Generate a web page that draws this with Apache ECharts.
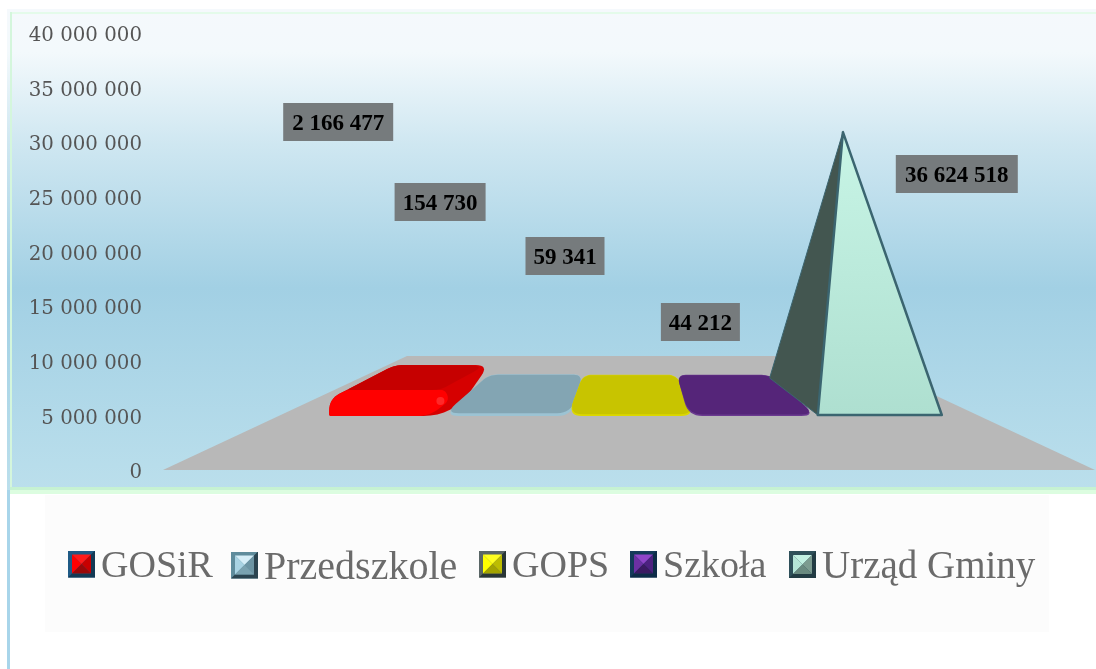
<!DOCTYPE html>
<html><head><meta charset="utf-8">
<style>html,body{margin:0;padding:0;background:#fff}#c{width:1096px;height:669px}</style>
<script src="https://cdn.jsdelivr.net/npm/echarts@6/dist/echarts.min.js"></script>
</head><body><div id="c"></div>
<script>
const categories = ['GOSiR', 'Przedszkole', 'GOPS', 'Szkoła', 'Urząd Gminy'];
const values = [2166477, 154730, 59341, 44212, 36624518];
const valueLabels = ['2 166 477', '154 730', '59 341', '44 212', '36 624 518'];
const tickLabels = ['0', '5 000 000', '10 000 000', '15 000 000', '20 000 000', '25 000 000', '30 000 000', '35 000 000', '40 000 000'];

// layout / style (not data)
const labelOffsets = [[-51, -293], [-69.5, -213], [-65, -159], [-50, -93], [77, -241]];
const labelBoxWidths = [110, 91, 79, 79, 122];
const legendLefts = [68, 231, 479, 630, 789];
const legendFontSizes = [38, 40, 38, 38, 39];
const slabStyles = [
  {front:'#ff0000', top:'#c60000', side:'#d60000'},
  {front:'#9cc3d3', top:'#83a5b3', side:'#9cc3d3'},
  {front:'#dcd800', top:'#c8c400', side:'#dcd800'},
  {front:'#6b3a90', top:'#552579', side:'#6b3a90'}
];
const iconFacets = [
  {frame:'#1f5a85', dark:'#143a55', t:'#ff1a1a', l:'#ff0000', r:'#c80000', b:'#9a0808'},
  {frame:'#5f8c9c', dark:'#2b4450', t:'#d6eef8', l:'#a9d3e3', r:'#6d95a4', b:'#7aa2b0'},
  {frame:'#5a6666', dark:'#2a3636', t:'#ffff20', l:'#ffff00', r:'#bdbd00', b:'#a3a300'},
  {frame:'#143a5a', dark:'#0e2c48', t:'#8f45c8', l:'#6c30a4', r:'#4d2180', b:'#3b1a62'},
  {frame:'#2f505a', dark:'#233c44', t:'#c2f0e2', l:'#b5e6d8', r:'#7c9b90', b:'#6a8a80'}
];
const VP_X = 629, DEPTH = 40, BAR_HW = 60, PYR_HW = 62, PYR_SHIFT = 9, FLAT_FLARE = 5;
const backX = (x, k) => x + (VP_X - x) * (k === undefined ? 0.22 : k);

function rounded(pts, radii) {
  const out = [], n = pts.length;
  for (let i = 0; i < n; i++) {
    const p = pts[i], a = pts[(i + n - 1) % n], b = pts[(i + 1) % n];
    const da = Math.hypot(a[0] - p[0], a[1] - p[1]), db = Math.hypot(b[0] - p[0], b[1] - p[1]);
    const r = Math.min(radii[i], da * 0.7, db * 0.7);
    if (r < 0.05) { out.push(p); continue; }
    const s = [p[0] + (a[0] - p[0]) * r / da, p[1] + (a[1] - p[1]) * r / da];
    const e = [p[0] + (b[0] - p[0]) * r / db, p[1] + (b[1] - p[1]) * r / db];
    for (let t = 0; t <= 8; t++) {
      const u = t / 8, v = 1 - u;
      out.push([v * v * s[0] + 2 * u * v * p[0] + u * u * e[0], v * v * s[1] + 2 * u * v * p[1] + u * u * e[1]]);
    }
  }
  return out;
}
function poly(points, fill, extra) {
  return Object.assign({type: 'polygon', shape: {points}, style: {fill}}, extra || {});
}
function labelEls(i, cx, base) {
  const x = cx + labelOffsets[i][0], y = base + labelOffsets[i][1], w = labelBoxWidths[i];
  return [
    {type: 'rect', z2: 49, shape: {x: x - w / 2, y: y - 19, width: w, height: 38}, style: {fill: '#767b7d'}},
    {type: 'text', z2: 50, style: {
      text: valueLabels[i], x, y: y + 2, align: 'center', verticalAlign: 'middle',
      font: 'bold 23px "Liberation Serif"', fill: '#000'
    }}
  ];
}
function renderSlab(params, api) {
  const i = params.seriesIndex, st = slabStyles[i];
  const v = api.value(1);
  const [cx, base] = api.coord([api.value(0), 0]);
  const size = api.size([0, v])[1];
  const liftF = size * 1.5, liftB = size * 0.6, inset = liftF * 0.35;
  const xl = cx - BAR_HW, xr = cx + BAR_HW;
  const by = base - DEPTH;
  const bl = [backX(xl), by - liftB], br = [backX(xr), by - liftB];
  let kids;
  if (liftF > 5) {
    const topL = [xl + 18, base - liftF], topR = [xr - inset, base - liftF];
    kids = [
      poly(rounded([[xl, base + 1], [xl, base - liftF * 0.64], bl, br, [xr + 4, base + 1]], [2, 14, 9, 13, 30]), st.side),
      poly(rounded([[xl, base + 1], [xl, base - liftF * 0.64], topL, [topR[0] + 4, topR[1]], [topR[0] + 10, topR[1] + 10], [xr - 20, base + 1]],
        [2, 14, 4, 4, 10, 12]), st.front),
      poly(rounded([topL, topR, [br[0] - inset * 0.5, br[1] + 1], bl], [3, 8, 12, 9]), st.top),
      {type: 'circle', shape: {cx: topR[0], cy: topR[1] + 11, r: 4}, style: {fill: 'rgba(255,80,80,0.5)'}}
    ];
  } else {
    const fl = xl - FLAT_FLARE * (cx < VP_X ? 1 : 0.4), fr = xr + FLAT_FLARE * (cx > VP_X ? 1 : 0.4);
    kids = [
      poly(rounded([[fl, base + 1], bl, br, [fr, base + 1]], [14, 9, 9, 14]), st.side),
      poly(rounded([[fl + 0.5, base - liftF], [bl[0], bl[1] + 0.5], [br[0], br[1] + 0.5], [fr - 0.5, base - liftF]], [14, 9, 9, 14]), st.top)
    ];
  }
  return {type: 'group', children: kids.concat(labelEls(i, cx, base))};
}
function renderPyramid(params, api) {
  const i = params.seriesIndex;
  const [x0, base] = api.coord([api.value(0), 0]);
  const cx = x0 + PYR_SHIFT;
  const apexY = api.coord([api.value(0), api.value(1)])[1];
  const l = cx - PYR_HW, r = cx + PYR_HW;
  const apex = [backX(cx, 0.147), apexY];
  const stroke = '#3b6570';
  return {type: 'group', children: [
    poly([apex, [backX(l, 0.255), base - DEPTH + 3], [l, base]], '#435650',
      {style: {fill: '#435650', stroke, lineWidth: 1, lineJoin: 'round'}}),
    poly([apex, [l, base], [r, base]], null, {style: {
      fill: {type: 'linear', x: 0, y: 0, x2: 0, y2: 1, colorStops: [{offset: 0, color: '#c8f5e6'}, {offset: 1, color: '#aedfd0'}]},
      stroke, lineWidth: 2.5, lineJoin: 'round'}})
  ].concat(labelEls(i, cx, base))};
}
function iconUri(f) {
  const svg = `<svg xmlns="http://www.w3.org/2000/svg" width="27" height="33" viewBox="0 0 27 33">` +
    `<rect width="27" height="27" fill="${f.frame}"/>` +
    `<polygon points="27,0 27,27 0,27 4,23 23,23 23,4" fill="${f.dark}"/>` +
    `<polygon points="4,4 23,4 13.5,13.5" fill="${f.t}"/>` +
    `<polygon points="4,4 13.5,13.5 4,23" fill="${f.l}"/>` +
    `<polygon points="23,4 23,23 13.5,13.5" fill="${f.r}"/>` +
    `<polygon points="4,23 13.5,13.5 23,23" fill="${f.b}"/></svg>`;
  return 'image://data:image/svg+xml;charset=utf-8,' + encodeURIComponent(svg);
}

const chart = echarts.init(document.getElementById('c'), null, {renderer: 'canvas'});
chart.setOption({
  animation: false,
  backgroundColor: '#ffffff',
  textStyle: {fontFamily: '"Liberation Serif"'},
  grid: [
    {left: 150, right: 20, top: 36, bottom: 196},
    {left: 329, width: 602, top: 106, bottom: 254}
  ],
  xAxis: [
    {type: 'category', gridIndex: 0, data: categories, show: false},
    {type: 'category', gridIndex: 1, data: categories, show: false}
  ],
  yAxis: [
    {type: 'value', gridIndex: 0, min: 0, max: 40000000, interval: 5000000,
     axisLine: {show: false}, axisTick: {show: false}, splitLine: {show: false},
     axisLabel: {margin: 8, fontSize: 19.8, color: '#555555', fontFamily: '"DejaVu Serif"',
                 formatter: v => tickLabels[Math.round(v / 5000000)]}},
    {type: 'value', gridIndex: 1, min: 0, max: 40000000, show: false, splitLine: {show: false}}
  ],
  legend: categories.map((name, i) => ({
    left: legendLefts[i], top: 548, padding: 0, selectedMode: false,
    itemWidth: 27, itemHeight: 33,
    textStyle: {fontSize: legendFontSizes[i], color: '#6b6b6b', fontFamily: '"Liberation Serif"', padding: [0, 0, 0, 1]},
    data: [{name, icon: iconUri(iconFacets[i])}]
  })),
  graphic: [
    {type: 'rect', z: -20, shape: {x: 7, y: 9, width: 1089, height: 481},
     style: {fill: {type: 'linear', x: 0, y: 0, x2: 0, y2: 1, colorStops: [
       {offset: 0, color: '#f5f9fc'}, {offset: 0.09, color: '#f3f9fc'},
       {offset: 0.28, color: '#cfe7f1'}, {offset: 0.58, color: '#a2d0e4'},
       {offset: 1, color: '#bbdfec'}]}}},
    {type: 'rect', z: -19, shape: {x: 10, y: 12, width: 1086, height: 2}, style: {fill: '#e4fbea'}},
    {type: 'rect', z: -19, shape: {x: 10, y: 12, width: 2, height: 476}, style: {fill: '#d4f6dc'}},
    {type: 'rect', z: -19, shape: {x: 10, y: 487, width: 1086, height: 3}, style: {fill: '#c6f2d2'}},
    {type: 'rect', z: -19, shape: {x: 10, y: 490, width: 1086, height: 4}, style: {fill: '#dcfde0'}},
    {type: 'rect', z: -19, shape: {x: 7, y: 490, width: 3, height: 179}, style: {fill: '#a8d5ea'}},
    {type: 'polygon', z: -18, shape: {points: [[163, 470], [407, 356], [851, 356], [1095, 470]]}, style: {fill: '#b8b8b8'}},
    {type: 'rect', z: -18, shape: {x: 45, y: 495, width: 1004, height: 137}, style: {fill: '#fcfcfc'}}
  ],
  series: categories.map((name, i) => ({
    type: 'custom', name, xAxisIndex: 1, yAxisIndex: 1, clip: false, z: 2 + i,
    coordinateSystem: 'cartesian2d',
    encode: {x: 0, y: 1},
    itemStyle: {color: iconFacets[i].l},
    renderItem: i < 4 ? renderSlab : renderPyramid,
    data: [[name, values[i]]]
  }))
});
</script></body></html>
